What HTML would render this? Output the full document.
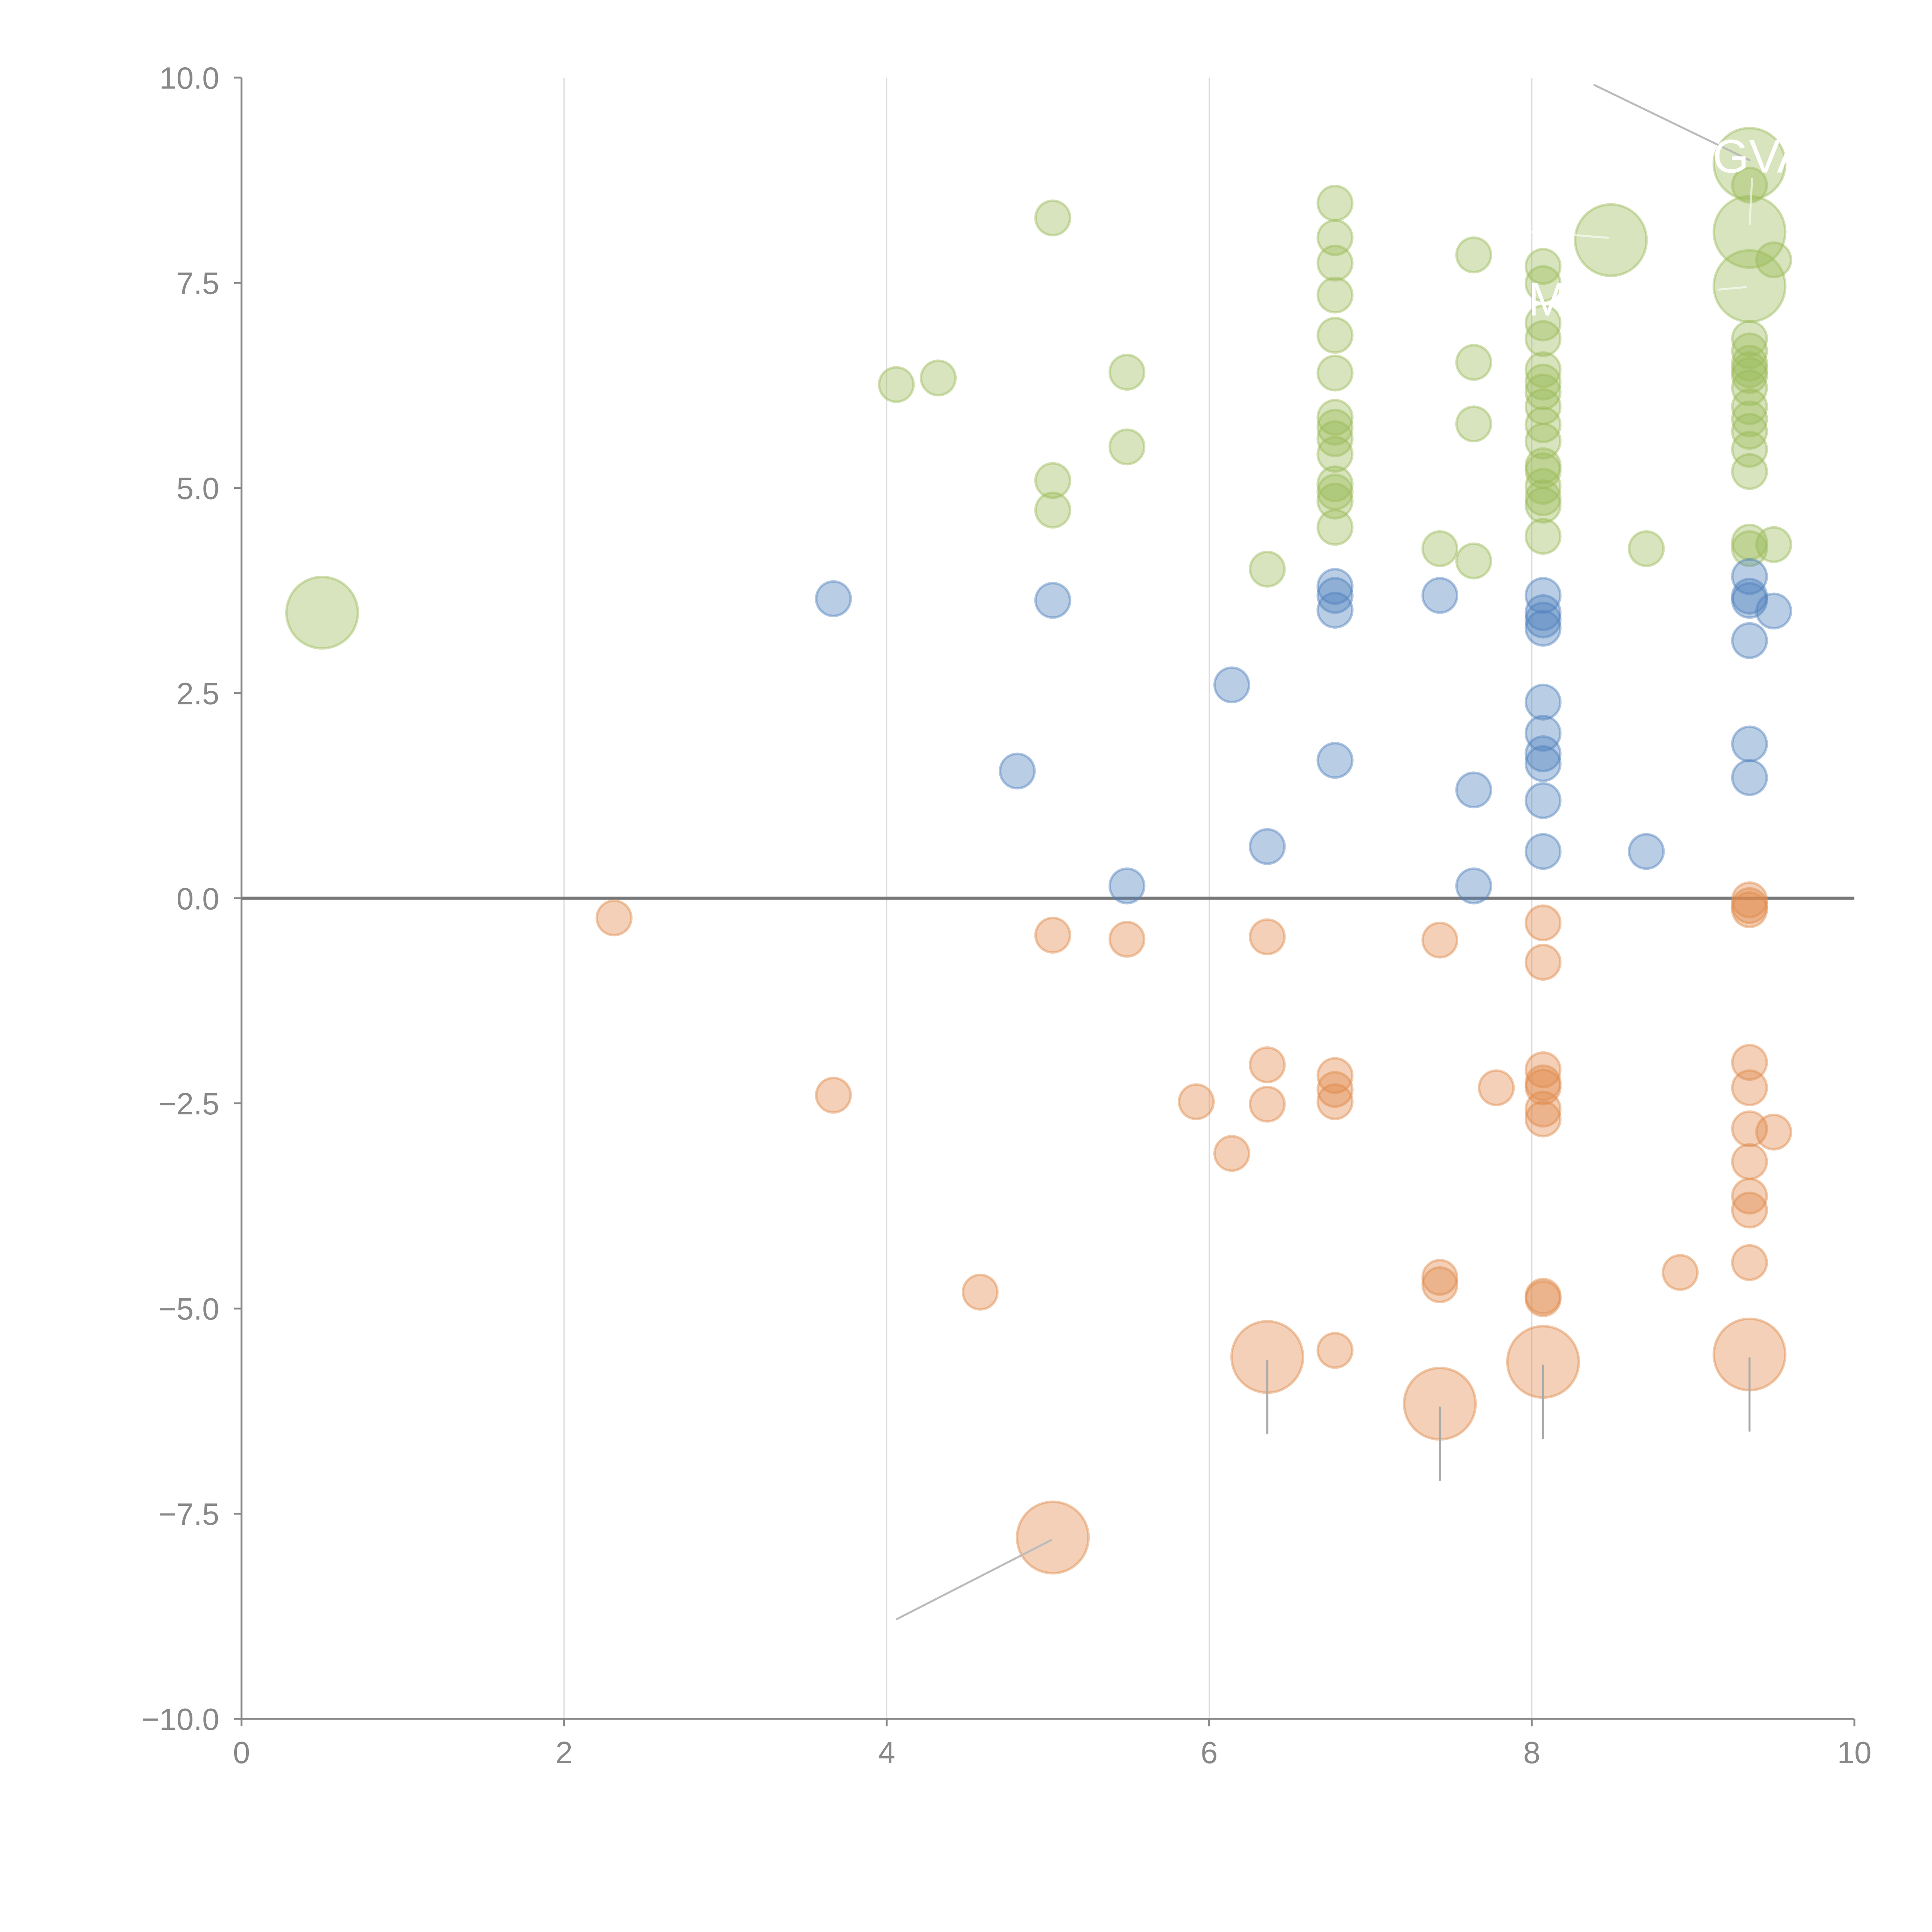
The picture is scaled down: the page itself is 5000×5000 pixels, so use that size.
<!DOCTYPE html>
<html><head><meta charset="utf-8"><style>html,body{margin:0;padding:0;background:#fff}svg{display:block}</style></head>
<body>
<svg id="chart" width="5000" height="5000" viewBox="0 0 1568 1568" xmlns="http://www.w3.org/2000/svg" font-family="Liberation Sans, sans-serif">
<g id="grid"></g>
<g id="axes"></g>
<g id="marks"></g>
<g id="notes"></g>
</svg>
<script>
const xTicks=[0,2,4,6,8,10];
const xTickLabels=["0","2","4","6","8","10"];
const yTicks=[10,7.5,5,2.5,0,-2.5,-5,-7.5,-10];
const yTickLabels=["10.0","7.5","5.0","2.5","0.0","−2.5","−5.0","−7.5","−10.0"];
const greenX=[5.03,4.06,4.32,5.49,5.49,5.03,5.03,6.36,
6.78,6.78,6.78,6.78,6.78,6.78,6.78,6.78,6.78,6.78,6.78,6.78,6.78,6.78,
7.64,7.64,7.64,7.64,7.43,8.71,
8.07,8.07,8.07,8.07,8.07,8.07,8.07,8.07,8.07,8.07,8.07,8.07,8.07,8.07,8.07,8.07,
9.35,9.35,9.35,9.35,9.35,9.35,9.35,9.35,9.35,9.35,9.35,9.35,9.35,9.35,9.5,9.5];
const greenY=[8.29,6.26,6.34,6.41,5.50,5.09,4.73,4.01,
8.47,8.05,7.74,7.35,6.86,6.40,5.86,5.74,5.60,5.41,5.05,4.95,4.84,4.52,
7.84,6.53,5.78,4.11,4.26,4.26,
7.70,7.49,7.01,6.82,6.44,6.29,6.17,5.99,5.77,5.57,5.27,5.21,5.02,4.88,4.79,4.41,
8.69,6.82,6.67,6.52,6.44,6.37,6.22,5.99,5.84,5.69,5.47,5.20,4.34,4.26,7.78,4.31];
const greenBigX=[0.5,8.49,9.35,9.35,9.35];
const greenBigY=[3.48,8.02,8.95,8.12,7.46];
const blueX=[3.67,5.03,4.81,5.49,6.14,6.36,6.78,6.78,6.78,6.78,7.43,7.64,7.64,
8.07,8.07,8.07,8.07,8.07,8.07,8.07,8.07,8.07,8.07,8.71,9.35,9.35,9.35,9.35,9.35,9.35,9.5];
const blueY=[3.65,3.63,1.55,0.15,2.60,0.63,3.80,3.69,3.51,1.68,3.69,1.32,0.15,
3.69,3.48,3.39,3.29,2.39,2.01,1.76,1.64,1.19,0.57,0.57,3.92,3.68,3.63,3.14,1.88,1.47,3.50];
const orangeX=[2.31,3.67,4.58,5.03,5.49,5.92,6.14,6.36,6.36,6.36,6.78,6.78,6.78,6.78,
7.43,7.43,7.43,7.78,8.07,8.07,8.07,8.07,8.07,8.07,8.07,8.07,8.07,8.92,
9.35,9.35,9.35,9.35,9.35,9.35,9.35,9.35,9.35,9.35,9.5];
const orangeY=[-0.24,-2.40,-4.80,-0.45,-0.50,-2.48,-3.11,-0.47,-2.03,-2.51,-2.16,-2.33,-2.48,-5.51,
-0.51,-4.62,-4.71,-2.31,-0.30,-0.78,-2.09,-2.25,-2.30,-2.57,-2.69,-4.85,-4.88,-4.56,
-0.02,-0.09,-0.14,-2.00,-2.31,-2.81,-3.21,-3.63,-3.80,-4.44,-2.85];
const orangeBigX=[6.36,7.43,8.07,9.35,5.03];
const orangeBigY=[-5.59,-6.16,-5.65,-5.56,-7.79];

const NS="http://www.w3.org/2000/svg";
const X0=196,X1=1505,Y0=1395,Y1=63;
function sx(v){return X0+(v-0)/(10-0)*(X1-X0);}
function sy(v){return Y0-(v+10)/20*(Y0-Y1);}
function mk(tag,attrs,parent){const e=document.createElementNS(NS,tag);for(const k in attrs)e.setAttribute(k,attrs[k]);parent.appendChild(e);return e;}
const grid=document.getElementById('grid'),axes=document.getElementById('axes'),marks=document.getElementById('marks'),notes=document.getElementById('notes');

xTicks.forEach((t,i)=>{
  if(t>0&&t<10){const g=mk('line',{x1:sx(t),x2:sx(t),y1:Y1,y2:Y0,stroke:'#dcdcdc','stroke-width':1},grid);
  
  }
  const tk=mk('line',{x1:sx(t),x2:sx(t),y1:Y0,y2:Y0+6,stroke:'#888','stroke-width':1.5},axes);
  
  
  const tx=mk('text',{x:sx(t),y:Y0+36,'text-anchor':'middle','font-size':25,fill:'#888'},axes);
  tx.textContent=xTickLabels[i];
  
  
});
yTicks.forEach((t,i)=>{
  const tk=mk('line',{x1:X0-6,x2:X0,y1:sy(t),y2:sy(t),stroke:'#888','stroke-width':1.5},axes);
  
  
  const tx=mk('text',{x:X0-18,y:sy(t)+9,'text-anchor':'end','font-size':25,fill:'#888'},axes);
  tx.textContent=yTickLabels[i];
  
  
});
const ya=mk('line',{x1:X0,x2:X0,y1:Y1,y2:Y0,stroke:'#888','stroke-width':1.5},axes);


const xa=mk('line',{x1:X0,x2:X1,y1:Y0,y2:Y0,stroke:'#888','stroke-width':1.5},axes);


const zl=mk('line',{x1:X0,x2:X1,y1:sy(0),y2:sy(0),stroke:'#777','stroke-width':2.5},axes);



function series(xs,ys,r,fill,stroke,name){
  xs.forEach((x,i)=>{
    const c=mk('circle',{cx:sx(x),cy:sy(ys[i]),r:r,fill:fill,'fill-opacity':0.4,stroke:stroke,'stroke-opacity':0.45,'stroke-width':2},marks);
    
    
  });
}
series(greenX,greenY,14,'#9bbb59','#9bbb59','green-point');
series(greenBigX,greenBigY,29,'#9bbb59','#9bbb59','green-large-point');
series(blueX,blueY,14,'#4f81bd','#4f81bd','blue-point');
series(orangeX,orangeY,14,'#e08a4a','#e08a4a','orange-point');
series(orangeBigX,orangeBigY,29,'#e08a4a','#e08a4a','orange-large-point');

function conn(x1,y1,x2,y2,col){const l=mk('line',{x1:x1,y1:y1,x2:x2,y2:y2,stroke:col,'stroke-width':1.6,'stroke-linecap':'round'},notes);

}
conn(1294,69,1420,130,'#bbb');
conn(853,1250,728,1314,'#bbb');
orangeBigX.slice(0,4).forEach((x,i)=>{const cy=sy(orangeBigY[i]);conn(sx(x),cy+3,sx(x),cy+62,'#aaa');});
conn(1422,145,1420,182,'rgba(255,255,255,0.6)');
conn(1243,188,1305,193,'rgba(255,255,255,0.6)');
conn(1395,235,1417,233,'rgba(255,255,255,0.6)');
function lbl(x,y,t){const e=mk('text',{x:x,y:y,'font-size':38,fill:'#fff'},notes);e.textContent=t;

}
lbl(1390,140,'GVA');
lbl(1240,256,'M');
</script>
</body></html>
